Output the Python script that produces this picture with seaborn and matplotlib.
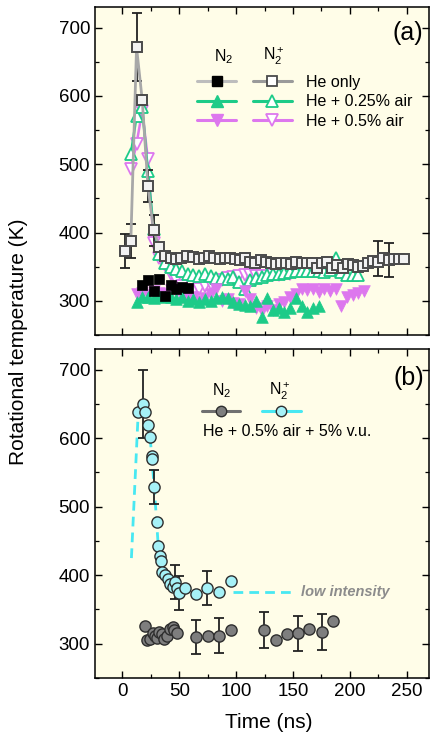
import matplotlib
matplotlib.use("Agg")
import matplotlib.pyplot as plt
from matplotlib.lines import Line2D
from matplotlib.ticker import MultipleLocator
import seaborn as sns
import pandas as pd

# ---------------- data: panel (a) ----------------
# N2+ , He only (open squares)
sq_open_t = [2.5, 7.5, 12.5, 17.5, 22.5, 27.5, 32.5, 37.5, 42.5, 47, 52, 57, 62, 67, 72, 76.5,
             81, 85.5, 90, 94.5, 99, 103.5, 108, 112.5, 117, 121.5, 126, 130.5, 135, 139.5, 144,
             148.5, 153, 157.5, 162, 166.5, 171, 175.5, 180, 184.5, 189, 193.5, 198, 202.5, 207,
             211.5, 216, 220.5, 225, 229.5, 234, 238.5, 243, 247.5]
sq_open_T = [373, 388, 671, 594, 468, 403, 379, 365, 362, 361, 362, 365, 364, 361, 362, 366,
             363, 361, 363, 362, 361, 360, 362, 357, 355, 360, 357, 355, 354, 355, 355,
             354, 357, 355, 356, 355, 348, 355, 357, 348, 352, 348, 354, 352, 350,
             351, 355, 359, 357, 362, 360, 361, 361, 361]
sq_open_err_t = [2.5, 7.5, 12.5, 22.5, 27.5, 225, 234]
sq_open_err_T = [373, 388, 671, 468, 403, 362, 360]
sq_open_err = [25, 25, 50, 24, 23, 26, 25]

# N2 , He only (filled squares)
sq_fill_t = [17.5, 22.5, 27.5, 32.5, 37.5, 42.5, 47.5, 52.5, 57.5]
sq_fill_T = [323, 331, 315, 332, 307, 323, 317, 320, 319]

# N2 , He + 0.25% air (filled up triangles)
gr_fill_t = [12.5, 17.5, 22.5, 27.5, 32.5, 37.5, 42.5, 47.5, 52.5, 57.5, 62.5, 67.5, 72.5,
             77.5, 82.5, 87.5, 92.5, 97.5, 102.5, 107.5, 112.5, 117.5, 122.5, 127.5, 132.5,
             137.5, 142.5, 147.5, 152.5, 157.5, 162.5, 167.5, 172.5]
gr_fill_T = [299, 305, 306, 304, 307, 305, 306, 303, 305, 300, 302, 299, 302,
             300, 304, 306, 304, 299, 296, 294, 292, 300, 277, 304, 287,
             290, 284, 289, 304, 292, 284, 290, 292]

# N2+ , He + 0.25% air (open up triangles)
gr_open_t = [7.5, 12.5, 17.5, 22.5, 27.5, 32.5, 37.5, 42.5, 47.5, 52.5, 57.5, 62.5, 67.5, 72.5,
             77.5, 82.5, 87.5, 92.5, 97.5, 102.5, 107.5, 112.5, 117.5, 122.5, 127.5, 132.5,
             137.5, 142.5, 147.5, 152.5, 157.5, 162.5, 167.5, 172.5, 177.5, 182.5, 187.5,
             192.5, 197.5, 202.5, 207.5]
gr_open_T = [515, 570, 583, 490, 405, 368, 356, 350, 347, 343, 339, 338, 336, 340,
             336, 334, 333, 332, 335, 328, 318, 330, 333, 335, 338, 340,
             340, 341, 342, 343, 343, 343, 343, 343, 342, 345, 362,
             342, 338, 338, 338]

# N2 , He + 0.5% air (filled down triangles)
vi_fill_t = [12.5, 17.5, 22.5, 27.5, 32.5, 37.5, 42.5, 47.5, 52.5, 57.5, 62.5, 67.5, 72.5,
             77.5, 82.5, 87.5, 92.5, 97.5, 102.5, 107.5, 112.5, 117.5, 122.5, 127.5, 132.5,
             137.5, 142.5, 147.5, 152.5, 157.5, 162.5, 167.5, 172.5, 177.5, 182.5, 187.5,
             192.5, 197.5, 202.5, 207.5, 212.5]
vi_fill_T = [310, 312, 308, 315, 312, 310, 316, 313, 305, 303, 306, 300, 304,
             310, 318, 300, 303, 297, 296, 315, 302, 290, 285, 292, 287,
             296, 298, 305, 310, 318, 316, 318, 313, 318, 314, 317,
             292, 306, 309, 311, 314]

# N2+ , He + 0.5% air (open down triangles)
vi_open_t = [7.5, 12.5, 17.5, 22.5, 27.5, 32.5, 37.5, 42.5, 47.5, 52.5, 57.5, 62.5, 67.5, 72.5,
             77.5, 82.5, 87.5, 92.5, 97.5, 102.5, 107.5, 112.5, 117.5, 122.5, 127.5, 132.5,
             137.5, 142.5, 147.5]
vi_open_T = [493, 530, 578, 507, 384, 362, 352, 340, 330, 322, 316, 313, 318, 322,
             325, 328, 330, 333, 335, 336, 338, 338, 337, 336, 337, 338,
             338, 339, 340]

# ---------------- data: panel (b) ----------------
cy_t = [14, 18, 20, 22.3, 24.3, 25.8, 26.4, 28, 30.2, 31.6, 33.5, 34, 35, 37.5, 40.4, 41.9,
        44.8, 46.3, 47.8, 49.8, 55.1, 64.8, 74.7, 85, 95.3]
cy_T = [638, 650, 638, 619, 601, 574, 569, 529, 477, 442, 428, 420, 404, 400, 395, 387,
        383, 390, 381, 374, 381, 372, 381, 375, 392]
cy_err_t = [18, 28, 46.3, 49.8, 74.7]
cy_err_T = [650, 529, 390, 374, 381]
cy_err = [50, 25, 25, 25, 25]
cy_line_t = [8, 14, 18, 22.3, 25, 28, 30.2, 31.6, 34, 36]
cy_line_T = [425, 638, 650, 619, 590, 529, 477, 442, 420, 405]
low_t = [97.6, 150]
low_T = [376, 376]

gy_t = [20, 22, 24.3, 26.7, 28.7, 30.8, 32.5, 34.6, 36.7, 39, 41.9, 44.3, 45.4, 47.8,
        64.8, 75, 85.3, 95.3, 124.8, 134.8, 144.5, 154.5, 164.4, 175.3, 185]
gy_T = [326, 305, 307, 315, 311, 309, 317, 314, 307, 312, 322, 324, 320, 315,
        310, 312, 312, 320, 320, 306, 314, 315, 322, 317, 333]
gy_err_t = [64.8, 85.3, 124.8, 154.5, 175.3]
gy_err_T = [310, 312, 320, 315, 317]
gy_err = [25, 25, 26, 25, 26]

x_ticks = [0, 50, 100, 150, 200, 250]
y_ticks = [300, 400, 500, 600, 700]

# ---------------- style ----------------
sns.set_theme(style="ticks")
plt.rcParams['font.family'] = ['Liberation Sans', 'DejaVu Sans']
plt.rcParams['mathtext.fontset'] = 'custom'
plt.rcParams['mathtext.rm'] = 'Liberation Sans'
plt.rcParams['mathtext.it'] = 'Liberation Sans:italic'
plt.rcParams['mathtext.bf'] = 'Liberation Sans:bold'
for k in ('text.color', 'axes.labelcolor', 'xtick.color', 'ytick.color', 'axes.edgecolor'):
    plt.rcParams[k] = 'black'

BG = '#FFFDE8'
GREEN = '#1DCB88'
VIOLET = '#DD77EE'
GRAYL = '#A8A8A8'
CYAN_F = '#A6F1F7'
CYAN_L = '#48E8F2'
GRAY_F = '#7E7E7E'
EDGE = '#2E2E2E'

fig = plt.figure(figsize=(4.31, 7.36), dpi=100)
W, H = 431, 736
axa = fig.add_axes([95 / W, 1 - 335 / H, 334 / W, 328 / H])
axb = fig.add_axes([95 / W, 1 - 678 / H, 334 / W, 329 / H])

for ax in (axa, axb):
    ax.set_facecolor(BG)
    ax.set_xlim(-24, 269.5)
    ax.set_ylim(250, 730)
    ax.set_xticks(x_ticks)
    ax.set_yticks(y_ticks)
    ax.xaxis.set_minor_locator(MultipleLocator(25))
    ax.yaxis.set_minor_locator(MultipleLocator(50))
    ax.tick_params(which='both', direction='in', top=True, right=True, color='black',
                   labelcolor='black')
    ax.tick_params(which='major', length=5, width=1.0, labelsize=13.5)
    ax.tick_params(which='minor', length=3, width=0.9)
    for s in ax.spines.values():
        s.set_linewidth(1.1)
        s.set_color('black')
    ax.set_xlabel('')
    ax.set_ylabel('')
axa.tick_params(labelbottom=False)

# ---------------- panel (a) ----------------
df_vo = pd.DataFrame({'t': vi_open_t, 'T': vi_open_T})
df_go = pd.DataFrame({'t': gr_open_t, 'T': gr_open_T})
df_vf = pd.DataFrame({'t': vi_fill_t, 'T': vi_fill_T})
df_gf = pd.DataFrame({'t': gr_fill_t, 'T': gr_fill_T})
df_sf = pd.DataFrame({'t': sq_fill_t, 'T': sq_fill_T})
df_so = pd.DataFrame({'t': sq_open_t, 'T': sq_open_T})

sns.lineplot(data=df_vo, x='t', y='T', ax=axa, color=VIOLET, lw=1.8, marker='v', markersize=8,
             markerfacecolor='white', markeredgecolor=VIOLET, markeredgewidth=1.3,
             sort=False, estimator=None, zorder=3)
sns.lineplot(data=df_go, x='t', y='T', ax=axa, color=GREEN, lw=1.8, marker='^', markersize=8,
             markerfacecolor='white', markeredgecolor=GREEN, markeredgewidth=1.3,
             sort=False, estimator=None, zorder=3)
sns.scatterplot(data=df_vf, x='t', y='T', ax=axa, color=VIOLET, marker='v', s=70,
                edgecolor=VIOLET, linewidth=0.5, zorder=4)
sns.scatterplot(data=df_gf, x='t', y='T', ax=axa, color=GREEN, marker='^', s=70,
                edgecolor=GREEN, linewidth=0.5, zorder=4)
sns.scatterplot(data=df_sf, x='t', y='T', ax=axa, color='black', marker='s', s=55,
                edgecolor='black', linewidth=0.5, zorder=5)
axa.errorbar(sq_open_err_t, sq_open_err_T, yerr=sq_open_err, fmt='none', ecolor='#222222',
             elinewidth=1.3, capsize=3.5, capthick=1.3, zorder=5)
sns.lineplot(data=df_so, x='t', y='T', ax=axa, color=GRAYL, lw=2.0, marker='s', markersize=6.5,
             markerfacecolor='#F2F2F2', markeredgecolor='#4A4A4A', markeredgewidth=1.4,
             sort=False, estimator=None, zorder=6)
axa.set_xlabel('')
axa.set_ylabel('')

h_a = [
    Line2D([], [], color='#BDBDBD', lw=2.2, marker='s', markersize=6.5, markerfacecolor='black', markeredgecolor='black'),
    Line2D([], [], color=GREEN, lw=2.2, marker='^', markersize=8, markerfacecolor=GREEN, markeredgecolor=GREEN),
    Line2D([], [], color=VIOLET, lw=2.2, marker='v', markersize=8, markerfacecolor=VIOLET, markeredgecolor=VIOLET),
    Line2D([], [], color='#9A9A9A', lw=2.2, marker='s', markersize=6.5, markerfacecolor='white', markeredgecolor='#4A4A4A', markeredgewidth=1.3),
    Line2D([], [], color=GREEN, lw=2.2, marker='^', markersize=8, markerfacecolor='white', markeredgecolor=GREEN, markeredgewidth=1.3),
    Line2D([], [], color=VIOLET, lw=2.2, marker='v', markersize=8, markerfacecolor='white', markeredgecolor=VIOLET, markeredgewidth=1.3),
]
labels_a = ['', '', '', 'He only', 'He + 0.25% air', 'He + 0.5% air']
axa.legend(h_a, labels_a, ncol=2, loc='upper left', bbox_to_anchor=(0.3054, 0.793),
           frameon=False, fontsize=11.5, handlelength=2.45, handletextpad=0.85,
           columnspacing=0.2, labelspacing=0.28, borderpad=0, borderaxespad=0)
axa.text(0.385, 0.848, 'N$_2$', transform=axa.transAxes, ha='center', va='center', fontsize=11.5)
axa.text(0.534, 0.848, 'N$_2^+$', transform=axa.transAxes, ha='center', va='center', fontsize=11.5)
axa.text(0.937, 0.921, '(a)', transform=axa.transAxes, ha='center', va='center', fontsize=18)

# ---------------- panel (b) ----------------
df_cl = pd.DataFrame({'t': cy_line_t, 'T': cy_line_T})
df_low = pd.DataFrame({'t': low_t, 'T': low_T})
df_cy = pd.DataFrame({'t': cy_t, 'T': cy_T})
df_gy = pd.DataFrame({'t': gy_t, 'T': gy_T})

sns.lineplot(data=df_cl, x='t', y='T', ax=axb, color=CYAN_L, lw=2.0,
             linestyle=(0, (3.5, 2.2)), sort=False, estimator=None, zorder=2)
sns.lineplot(data=df_low, x='t', y='T', ax=axb, color=CYAN_L, lw=2.0,
             linestyle=(0, (3.5, 2.2)), sort=False, estimator=None, zorder=2)
axb.errorbar(cy_err_t, cy_err_T, yerr=cy_err, fmt='none', ecolor='#222222',
             elinewidth=1.3, capsize=3.5, capthick=1.3, zorder=3)
axb.errorbar(gy_err_t, gy_err_T, yerr=gy_err, fmt='none', ecolor='#222222',
             elinewidth=1.3, capsize=3.5, capthick=1.3, zorder=3)
sns.scatterplot(data=df_gy, x='t', y='T', ax=axb, color=GRAY_F, marker='o', s=65,
                edgecolor=EDGE, linewidth=1.0, zorder=4)
sns.scatterplot(data=df_cy, x='t', y='T', ax=axb, color=CYAN_F, marker='o', s=65,
                edgecolor=EDGE, linewidth=1.0, zorder=4)
axb.set_xlabel('')
axb.set_ylabel('')
axb.text(157, 376, 'low intensity', ha='left', va='center', fontsize=10.5,
         style='italic', weight='bold', color='#8C8C8C')

h_b = [
    Line2D([], [], color='#707070', lw=2.2, marker='o', markersize=7.5, markerfacecolor=GRAY_F, markeredgecolor=EDGE),
    Line2D([], [], color=CYAN_L, lw=2.2, marker='o', markersize=7.5, markerfacecolor=CYAN_F, markeredgecolor=EDGE),
]
axb.legend(h_b, ['', ''], ncol=2, loc='upper left', bbox_to_anchor=(0.320, 0.830),
           frameon=False, fontsize=11.5, handlelength=2.4, handletextpad=0.8,
           columnspacing=0.575, borderpad=0, borderaxespad=0)
axb.text(0.379, 0.872, 'N$_2$', transform=axb.transAxes, ha='center', va='center', fontsize=11.5)
axb.text(0.554, 0.872, 'N$_2^+$', transform=axb.transAxes, ha='center', va='center', fontsize=11.5)
axb.text(0.323, 0.749, 'He + 0.5% air + 5% v.u.', transform=axb.transAxes, ha='left',
         va='center', fontsize=11.5)
axb.text(0.939, 0.912, '(b)', transform=axb.transAxes, ha='center', va='center', fontsize=18)

fig.text(0.042, 0.535, 'Rotational temperature (K)', rotation=90, ha='center', va='center', fontsize=15)
fig.text(0.624, 0.018, 'Time (ns)', ha='center', va='center', fontsize=15)

fig.savefig('out.png', dpi=100, facecolor='white')
